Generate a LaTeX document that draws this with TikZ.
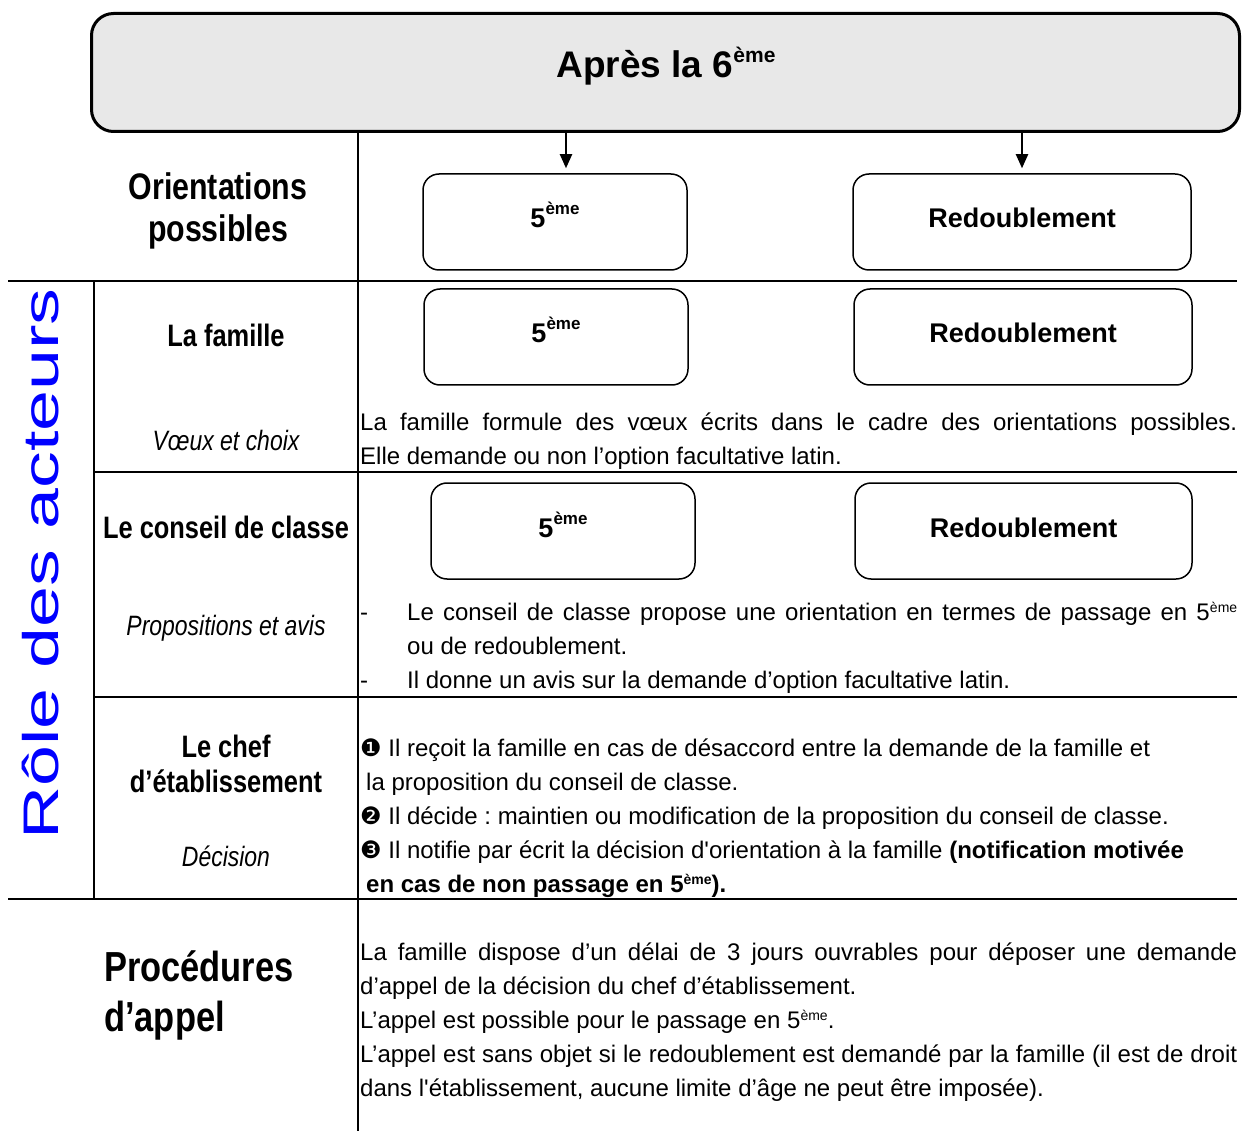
\documentclass[tikz,border=0pt]{standalone}
\usepackage{fontspec}
\setmainfont{Liberation Sans}
\newfontfamily\narrowfont{Liberation Sans}[FakeStretch=0.82]
\newfontfamily\widefont{Liberation Sans}[FakeStretch=1.47]
\newfontfamily\dingfont{DejaVu Sans}
\usetikzlibrary{arrows.meta}
\definecolor{titlegray}{HTML}{E8E8E8}
\definecolor{roleblue}{HTML}{0000FF}
\frenchspacing
\newcommand{\eme}[2]{\raisebox{#1}{\fontsize{#2}{#2}\selectfont ème}}
\tikzset{
  tline/.style={line width=2pt},
  tbox/.style={draw, line width=3pt, rounded corners=22pt, fill=titlegray, inner sep=0pt},
  rbox/.style={draw, line width=1.5pt, rounded corners=16pt, inner sep=0pt,
    minimum height=96pt, text height=20pt, text depth=8pt,
    font=\bfseries\fontsize{27}{30}\selectfont},
  lbl/.style={anchor=base, inner sep=0pt, font=\narrowfont\bfseries\fontsize{31}{36}\selectfont},
  bigl/.style={anchor=base, inner sep=0pt, font=\narrowfont\bfseries\fontsize{37}{42}\selectfont},
  ital/.style={anchor=base, inner sep=0pt, font=\narrowfont\itshape\fontsize{28}{32}\selectfont},
  body/.style={anchor=base west, inner sep=0pt, font=\fontsize{24}{34}\selectfont},
  arr/.style={line width=2pt, -{Triangle[width=12pt,length=14pt]}, shorten >=5pt},
}
\begin{document}
\frenchspacing
\begin{tikzpicture}[x=1pt, y=-1pt]
\fill[white] (0,0) rectangle (1242,1131);
\useasboundingbox (0,0) rectangle (1242,1131);

% title
\node[tbox, minimum width=1148pt, minimum height=118pt] (title) at (665.5,72.5) {};
\node[anchor=base, inner sep=0pt, font=\bfseries\fontsize{37}{40}\selectfont] (ttext) at (666,78) {Après la 6\eme{15pt}{21}};

% table lines
\draw[tline] (358,132) -- (358,1131);
\draw[tline] (8,281) -- (1237,281);
\draw[tline] (94,281) -- (94,899);
\draw[tline] (94,472) -- (1237,472);
\draw[tline] (94,697) -- (1237,697);
\draw[tline] (8,899) -- (1237,899);

% role des acteurs
\node[rotate=90, inner sep=0pt, text=roleblue, font=\widefont\fontsize{50}{50}\selectfont] (role) at (41,564) {Rôle des acteurs};

% row 1
\node[bigl] (or1) at (218,200) {Orientations};
\node[bigl] (or2) at (218,242) {possibles};
\node[rbox, minimum width=264pt] (A1) at (555,222) {5\eme{13pt}{17}};
\node[rbox, minimum width=338pt] (B1) at (1022,222) {Redoublement};
\coordinate (a1s) at (566,132);
\draw[arr] (a1s) -- (a1s |- A1.north);
\draw[arr] (title.south -| B1.north) -- (B1.north);

% row 2
\node[lbl] (fam) at (226,347) {La famille};
\node[ital] (famv) at (226,450) {Vœux et choix};
\node[rbox, minimum width=264pt] (A2) at (556,337) {5\eme{13pt}{17}};
\node[rbox, minimum width=338pt] (B2) at (1023,337) {Redoublement};
\node[body] (f1) at (360,430) {\makebox[877pt][s]{La famille formule des vœux écrits dans le cadre des orientations possibles.}};
\node[body] (f2) at (360,464) {Elle demande ou non l’option facultative latin.};

% row 3
\node[lbl] (cc) at (226,538) {Le conseil de classe};
\node[ital] (ccv) at (226,635) {Propositions et avis};
\node[rbox, minimum width=264pt] (A3) at (563,531) {5\eme{13pt}{17}};
\node[rbox, minimum width=337pt] (B3) at (1023.5,531) {Redoublement};
\node[body] (c0) at (360,620) {-};
\node[body] (c1) at (407,620) {\makebox[830pt][s]{Le conseil de classe propose une orientation en termes de passage en 5\eme{8pt}{14}}};
\node[body] (c2) at (407,654) {ou de redoublement.};
\node[body] (c3) at (360,688) {-};
\node[body] (c4) at (407,688) {Il donne un avis sur la demande d’option facultative latin.};

% row 4
\node[lbl] (ch1) at (226,757) {Le chef};
\node[lbl] (ch2) at (226,792) {d’établissement};
\node[ital] (chv) at (226,866) {Décision};
\node[body] (h1) at (360,756) {{\dingfont ❶} Il reçoit la famille en cas de désaccord entre la demande de la famille et};
\node[body] (h2) at (366,790) {la proposition du conseil de classe.};
\node[body] (h3) at (360,824) {{\dingfont ❷} Il décide : maintien ou modification de la proposition du conseil de classe.};
\node[body] (h4) at (360,858) {{\dingfont ❸} Il notifie par écrit la décision d\textquotesingle orientation à la famille \textbf{(notification motivée}};
\node[body] (h5) at (366,892) {\textbf{en cas de non passage en 5\eme{8pt}{14}).}};

% row 5
\node[anchor=base west, inner sep=0pt, font=\narrowfont\bfseries\fontsize{42}{50}\selectfont] (pr1) at (104,981) {Procédures};
\node[anchor=base west, inner sep=0pt, font=\narrowfont\bfseries\fontsize{42}{50}\selectfont] (pr2) at (104,1031) {d’appel};
\node[body] (p1) at (360,960) {\makebox[877pt][s]{La famille dispose d’un délai de 3 jours ouvrables pour déposer une demande}};
\node[body] (p2) at (360,994) {d’appel de la décision du chef d’établissement.};
\node[body] (p3) at (360,1028) {L’appel est possible pour le passage en 5\eme{8pt}{14}.};
\node[body] (p4) at (360,1062) {\makebox[877pt][s]{L’appel est sans objet si le redoublement est demandé par la famille (il est de droit}};
\node[body] (p5) at (360,1096) {dans l\textquotesingle établissement, aucune limite d’âge ne peut être imposée).};
\end{tikzpicture}
\end{document}
